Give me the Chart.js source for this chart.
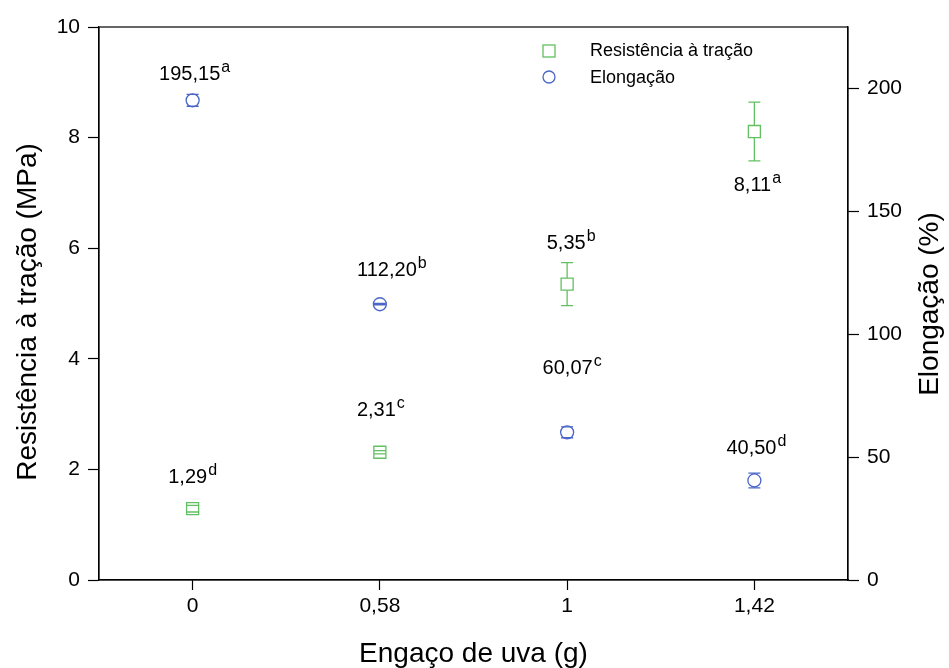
<!DOCTYPE html>
<html lang="pt">
<head>
  <meta charset="UTF-8">
  <title>Resistência à tração e Elongação</title>
  <style>
    body {
      margin: 0;
      background-color: #ffffff;
    }

    .chart-container {
      width: 949px;
      height: 668px;
    }
  </style>
</head>
<body>
  <div class="chart-container">
    <canvas id="grape-chart" width="949" height="668"></canvas>
  </div>

  <script src="https://cdn.jsdelivr.net/npm/chart.js"></script>
  <script>
    // Data
    const categories = ["0", "0,58", "1", "1,42"];
    const tensile = [1.29, 2.31, 5.35, 8.11];
    const tensileErr = [0.06, 0.03, 0.39, 0.53];
    const tensileLetters = ["d", "c", "b", "a"];
    const elongation = [195.15, 112.20, 60.07, 40.50];
    const elongationErr = [2.4, 0.3, 2.2, 3.0];
    const elongationLetters = ["a", "b", "c", "d"];
    const leftTicks = [0, 2, 4, 6, 8, 10];
    const rightTicks = [0, 50, 100, 150, 200];

    // Styling
    const FONT = "'Liberation Sans', Arial, sans-serif";
    const GREEN = "#62c062";
    const BLUE = "#4a66c8";

    // label placement (px from the point), one per point
    const tensileLabelPos = [
      { dx: 0, dy: -26 },
      { dx: 1, dy: -36 },
      { dx: 4, dy: -35 },
      { dx: 3, dy: 59 },
    ];
    const elongationLabelPos = [
      { dx: 2, dy: -20 },
      { dx: 12, dy: -28 },
      { dx: 5, dy: -58 },
      { dx: 2, dy: -26 },
    ];

    const fmt = (v) => v.toFixed(2).replace(".", ",");

    // Frame, error bars, value labels, legend and axis titles
    const extras = {
      id: "extras",
      afterDatasetsDraw(chart) {
        const ctx = chart.ctx;
        const area = chart.chartArea;
        const x = chart.scales.x;

        ctx.save();
        // frame
        ctx.strokeStyle = "#000";
        ctx.lineWidth = 1.2;
        ctx.strokeRect(area.left, area.top, area.right - area.left, area.bottom - area.top);

        // error bars
        function errorBars(values, errs, scale, color, half) {
          ctx.strokeStyle = color;
          ctx.lineWidth = 1.3;
          values.forEach((v, i) => {
            const px = x.getPixelForValue(i);
            const yc = scale.getPixelForValue(v);
            const yTop = scale.getPixelForValue(v + errs[i]);
            const yBot = scale.getPixelForValue(v - errs[i]);
            ctx.beginPath();
            if (yTop < yc - half) {
              ctx.moveTo(px, yTop);
              ctx.lineTo(px, yc - half);
              ctx.moveTo(px, yc + half);
              ctx.lineTo(px, yBot);
            }
            ctx.moveTo(px - 6, yTop);
            ctx.lineTo(px + 6, yTop);
            ctx.moveTo(px - 6, yBot);
            ctx.lineTo(px + 6, yBot);
            ctx.stroke();
          });
        }
        errorBars(tensile, tensileErr, chart.scales.y, GREEN, 6);
        errorBars(elongation, elongationErr, chart.scales.y1, BLUE, 6.5);

        // value labels with superscript letter
        function valueLabels(values, letters, pos, scale) {
          ctx.fillStyle = "#000";
          ctx.textBaseline = "alphabetic";
          ctx.textAlign = "left";
          values.forEach((v, i) => {
            const main = fmt(v);
            ctx.font = "20px " + FONT;
            const w1 = ctx.measureText(main).width;
            ctx.font = "16px " + FONT;
            const w2 = ctx.measureText(letters[i]).width;
            const px = x.getPixelForValue(i) + pos[i].dx - (w1 + w2 + 1) / 2;
            const py = scale.getPixelForValue(v) + pos[i].dy;
            ctx.font = "20px " + FONT;
            ctx.fillText(main, px, py);
            ctx.font = "16px " + FONT;
            ctx.fillText(letters[i], px + w1 + 1, py - 8);
          });
        }
        valueLabels(tensile, tensileLetters, tensileLabelPos, chart.scales.y);
        valueLabels(elongation, elongationLetters, elongationLabelPos, chart.scales.y1);

        // legend
        ctx.lineWidth = 1.3;
        ctx.strokeStyle = GREEN;
        ctx.strokeRect(543, 45, 12, 12);
        ctx.strokeStyle = BLUE;
        ctx.beginPath();
        ctx.arc(549, 77, 6, 0, Math.PI * 2);
        ctx.stroke();
        ctx.fillStyle = "#000";
        ctx.font = "18px " + FONT;
        ctx.textBaseline = "middle";
        ctx.textAlign = "left";
        ctx.fillText("Resistência à tração", 590, 51);
        ctx.fillText("Elongação", 590, 78);

        // axis titles
        ctx.font = "28px " + FONT;
        ctx.textAlign = "center";
        ctx.textBaseline = "alphabetic";
        ctx.fillText("Engaço de uva (g)", (area.left + area.right) / 2, 662);
        ctx.save();
        ctx.translate(36, 312);
        ctx.rotate(-Math.PI / 2);
        ctx.fillText("Resistência à tração (MPa)", 0, 0);
        ctx.restore();
        ctx.save();
        ctx.translate(938, 304);
        ctx.rotate(-Math.PI / 2);
        ctx.fillText("Elongação (%)", 0, 0);
        ctx.restore();
        ctx.restore();
      },
    };

    const axisGrid = {
      display: true,
      drawOnChartArea: false,
      drawTicks: true,
      tickLength: 11,
      tickWidth: 1.2,
      tickColor: "#000",
    };
    const tickFont = { family: FONT, size: 21 };

    new Chart(document.getElementById("grape-chart"), {
      type: "line",
      data: {
        labels: categories,
        datasets: [
          {
            label: "Resistência à tração",
            data: tensile,
            yAxisID: "y",
            showLine: false,
            pointStyle: "rect",
            pointRadius: 8.5,
            pointHoverRadius: 8.5,
            pointBorderWidth: 1.3,
            borderColor: GREEN,
            backgroundColor: "#ffffff",
          },
          {
            label: "Elongação",
            data: elongation,
            yAxisID: "y1",
            showLine: false,
            pointStyle: "circle",
            pointRadius: 6.5,
            pointHoverRadius: 6.5,
            pointBorderWidth: 1.3,
            borderColor: BLUE,
            backgroundColor: "#ffffff",
          },
        ],
      },
      options: {
        responsive: false,
        animation: false,
        devicePixelRatio: 1,
        layout: { padding: { top: 27, left: 0, right: 0, bottom: 0 } },
        plugins: {
          legend: { display: false },
          tooltip: { enabled: false },
        },
        scales: {
          x: {
            type: "category",
            offset: true,
            grid: Object.assign({}, axisGrid, { tickLength: 10, offset: false }),
            border: { display: true, color: "#000", width: 1.2 },
            ticks: { color: "#000", font: tickFont, padding: 4, maxRotation: 0 },
            afterFit(scale) { scale.height = 88; },
          },
          y: {
            position: "left",
            min: 0,
            max: 10,
            grid: axisGrid,
            border: { display: true, color: "#000", width: 1.2 },
            ticks: { color: "#000", font: tickFont, padding: 8, stepSize: 2 },
            afterBuildTicks(scale) { scale.ticks = leftTicks.map((v) => ({ value: v })); },
            afterFit(scale) { scale.width = 99; },
          },
          y1: {
            position: "right",
            min: 0,
            max: 225,
            grid: axisGrid,
            border: { display: true, color: "#000", width: 1.2 },
            ticks: { color: "#000", font: tickFont, padding: 8 },
            afterBuildTicks(scale) { scale.ticks = rightTicks.map((v) => ({ value: v })); },
            afterFit(scale) { scale.width = 101; },
          },
        },
      },
      plugins: [extras],
    });
  </script>
</body>
</html>
